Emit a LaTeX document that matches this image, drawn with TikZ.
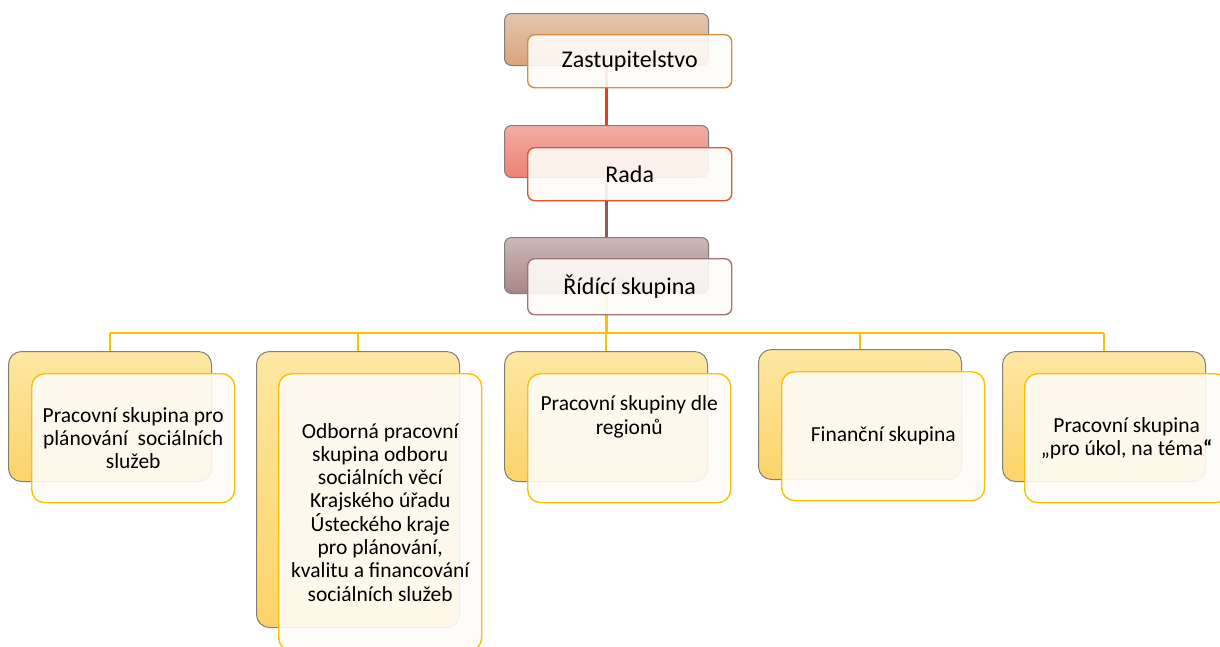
\documentclass[tikz,border=0pt]{standalone}
\usepackage{fontspec}
\setmainfont{Carlito}
\definecolor{zastTop}{HTML}{E4C6AE}
\definecolor{zastBot}{HTML}{D9A47C}
\definecolor{zastLine}{HTML}{D88E3E}
\definecolor{radaTop}{HTML}{F3ADA5}
\definecolor{radaBot}{HTML}{EC8174}
\definecolor{radaLine}{HTML}{E8532A}
\definecolor{ridTop}{HTML}{CDB8B8}
\definecolor{ridBot}{HTML}{A88686}
\definecolor{ridLine}{HTML}{A07474}
\definecolor{ylwTop}{HTML}{FEE7A2}
\definecolor{ylwBot}{HTML}{FBD36A}
\definecolor{ylwLine}{HTML}{FFC000}
\definecolor{backLine}{HTML}{7F7F7F}
\definecolor{redConn}{HTML}{E0401F}
\definecolor{brownConn}{HTML}{8C5C5C}
\definecolor{frontFill}{HTML}{FEFCF8}
\tikzset{
  backbox/.style 2 args={rounded corners=7pt, draw=backLine, line width=1pt,
    top color=#1, bottom color=#2, anchor=north west, inner sep=0pt,
    minimum width=204pt, minimum height=52pt},
  frontbox/.style={rounded corners=7pt, draw=#1, line width=1.4pt,
    fill=frontFill, fill opacity=0.9, text opacity=1, text=black,
    anchor=north west, inner sep=0pt, minimum width=204pt, minimum height=53pt,
    align=center, font=\fontsize{24}{28}\selectfont},
  lowback/.style={backbox={ylwTop}{ylwBot}, rounded corners=13pt,
    minimum width=203pt, minimum height=130pt},
  lowfront/.style={frontbox=ylwLine, rounded corners=13pt,
    minimum width=203pt, minimum height=129pt,
    font=\fontsize{21.5}{23.3}\selectfont},
  conn/.style={draw=#1, line width=2.2pt},
}
\begin{document}
\begin{tikzpicture}[x=1pt,y=-1pt]
\clip (0,0) rectangle (1220,646);
\fill[white] (0,0) rectangle (1220,646);

% back boxes
\node[backbox={zastTop}{zastBot}] (z1) at (504,13) {};
\node[backbox={radaTop}{radaBot}] (r1) at (504,125) {};
\node[backbox={ridTop}{ridBot}, minimum height=56pt] (s1) at (504,237) {};
\node[lowback] (b1) at (8,351) {};
\node[lowback, minimum height=276pt] (b2) at (256,351) {};
\node[lowback] (b3) at (504,351) {};
\node[lowback] (b4) at (758,349) {};
\node[lowback] (b5) at (1002,351) {};

% connectors
\coordinate (bus) at (606,333);
\draw[conn=redConn] (z1.south) -- (r1.north);
\draw[conn=brownConn] (r1.south) -- (s1.north);
\draw[conn=ylwLine] (s1.south) -- (s1.south |- bus);
\draw[conn=ylwLine] (b1.north |- bus) -- (b5.north |- bus);
\draw[conn=ylwLine] (b1.north |- bus) -- (b1.north);
\draw[conn=ylwLine] (b2.north |- bus) -- (b2.north);
\draw[conn=ylwLine] (b3.north |- bus) -- (b3.north);
\draw[conn=ylwLine] (b4.north |- bus) -- (b4.north);
\draw[conn=ylwLine] (b5.north |- bus) -- (b5.north);

% front boxes
\node[frontbox=zastLine] (z2) at (527,34) {Zastupitelstvo};
\node[frontbox=radaLine] (r2) at (527,147) {Rada};
\node[frontbox=ridLine, minimum height=56pt] (s2) at (527,258) {Řídící skupina};
\node[lowfront] (f1) at (31,373) {Pracovní skupina pro\\plánování\ \ sociálních\\služeb};
\node[lowfront, minimum height=277pt] (f2) at (278,373) {Odborná pracovní\\skupina odboru\\sociálních věcí\\Krajského úřadu\\Ústeckého kraje\\pro plánování,\\kvalitu a financování\\sociálních služeb};
\node[lowfront] (f3) at (527,373) {Pracovní skupiny dle\\regionů\\[23pt]};
\node[lowfront] (f4) at (781,371) {Finanční skupina};
\node[lowfront, minimum width=204pt] (f5) at (1024,373) {Pracovní skupina\\„pro úkol, na téma{\bfseries “}};
\end{tikzpicture}
\end{document}
